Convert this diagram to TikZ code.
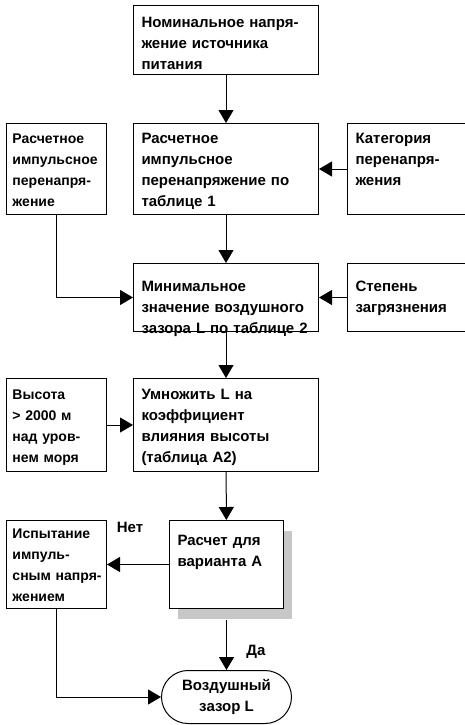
\documentclass[tikz,border=0pt]{standalone}
\usepackage{fontspec}
\setmainfont{Liberation Sans}
\usetikzlibrary{arrows.meta,shadows}
\begin{document}
\begin{tikzpicture}[x=1pt,y=-1pt,>={Triangle[length=13pt,width=15pt]},line width=1pt,
  font=\fontsize{15}{21}\selectfont\bfseries,
  box/.style={draw,fill=white,anchor=north west,inner xsep=8pt,inner ysep=0pt,align=left},
  wide/.style={box,text width=169pt},
  narrow/.style={box,inner xsep=6pt,text width=88pt,font=\fontsize{14}{21}\selectfont\bfseries}]
\useasboundingbox (0,0) rectangle (465,725);
\node[wide,text height=22pt,text depth=47pt](A) at (133,5){Номинальное напря-\\жение источника\\питания};
\node[narrow,text height=20pt,text depth=71pt](B1) at (6,123){Расчетное\\импульсное\\перенапря-\\жение};
\node[wide,text height=20pt,text depth=71pt](B) at (133,123){Расчетное\\импульсное\\перенапряжение по\\таблице 1};
\node[box,text width=112pt,text height=20pt,text depth=71pt](B2) at (347,123){Категория\\перенапря-\\жения};
\node[wide,text height=28pt,text depth=40pt](C) at (133,263){Минимальное\\значение воздушного\\зазора L по таблице 2};
\node[box,text width=112pt,text height=28pt,text depth=40pt](C2) at (347,263){Степень\\загрязнения};
\node[narrow,text height=21pt,text depth=72pt](D1) at (6,378){Высота\\> 2000~м\\\mbox{над уров-}\\нем~моря};
\node[wide,text height=21pt,text depth=72pt](D) at (133,378){Умножить L на\\коэффициент\\влияния высоты\\(таблица А2)};
\node[narrow,text height=18pt,text depth=70pt](E1) at (6,520){Испытание\\импуль-\\\mbox{сным напря-}\\жением};
\node[box,text width=98pt,text height=25pt,text depth=63pt,
  drop shadow={shadow xshift=8pt,shadow yshift=-10.5pt,fill=black!22,opacity=1}](E) at (169,520){Расчет для\\варианта А};
\node[draw,anchor=north west,rounded corners=26.5pt,minimum width=130pt,minimum height=53pt,align=center](F) at (161,670){Воздушный\\зазор L};
\node[](N) at (130,527){Нет};
\node[](Y) at (256,652){Да};

\draw[->](A)--(B);
\draw[->](B2)--(B);
\draw[->](B)--(C);
\draw[->](B1)|-(C);
\draw[->](C2)--(C);
\draw[->](C)--(D);
\draw[->](D1)--(D);
\draw[->](D)--(E);
\draw[->](E)--(E1);
\draw[->,shorten <=10.5pt](E)--(F);
\draw[->](E1)|-(F);
\end{tikzpicture}
\end{document}
